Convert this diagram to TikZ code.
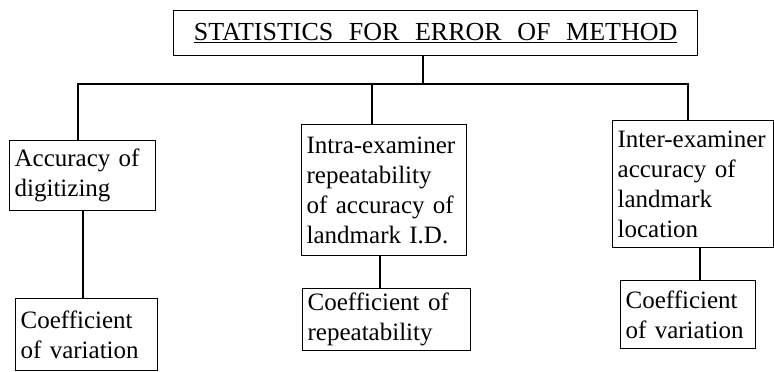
\documentclass[tikz,border=0pt]{standalone}
\usepackage{fontspec}
\setmainfont{Liberation Serif}
\begin{document}
\begin{tikzpicture}[x=1pt,y=-1pt,line width=1.3pt,
  box/.style={draw, line width=1.3pt, inner xsep=5pt, inner ysep=2pt, align=left,
    anchor=north west, font=\fontsize{25}{30}\selectfont},
  titlebox/.style={draw, line width=1.3pt, inner sep=0pt, anchor=north west,
    font=\fontsize{26}{30}\selectfont},
  link/.style={line width=1.3pt}]
\useasboundingbox (0,0) rectangle (774,372);

\node[titlebox, minimum width=524pt, minimum height=45pt] (title) at (173,10)
  {\spaceskip=0.6em\underline{STATISTICS FOR ERROR OF METHOD}};

\node[box, text width=136pt, minimum height=70pt] (A) at (9,140)
  {Accuracy of\\digitizing};
\node[box, text width=155pt, minimum height=131pt] (B) at (301,124)
  {Intra-examiner\\repeatability\\of accuracy of\\landmark I.D.};
\node[box, text width=151pt, minimum height=127pt] (C) at (612,120)
  {Inter-examiner\\accuracy of\\landmark\\location};

\node[box, text width=132pt, minimum height=72pt] (A2) at (15,298)
  {Coefficient\\of variation};
\node[box, text width=158pt, minimum height=62pt] (B2) at (302,288)
  {Coefficient of\\repeatability};
\node[box, text width=125pt, minimum height=68pt] (C2) at (620,280)
  {Coefficient\\of variation};

\coordinate (bus) at (423,84);
\coordinate (ja) at (78,84);
\coordinate (jb) at (372,84);
\coordinate (jc) at (688,84);
\coordinate (ka) at (83,0);
\coordinate (kb) at (380,0);
\coordinate (kc) at (700,0);

\draw[link] (title.south -| bus) -- (bus);
\draw[link] (A.north -| ja) -- (ja) -- (jc) -- (C.north -| jc);
\draw[link] (jb) -- (B.north -| jb);
\draw[link] (A.south -| ka) -- (A2.north -| ka);
\draw[link] (B.south -| kb) -- (B2.north -| kb);
\draw[link] (C.south -| kc) -- (C2.north -| kc);
\end{tikzpicture}
\end{document}
